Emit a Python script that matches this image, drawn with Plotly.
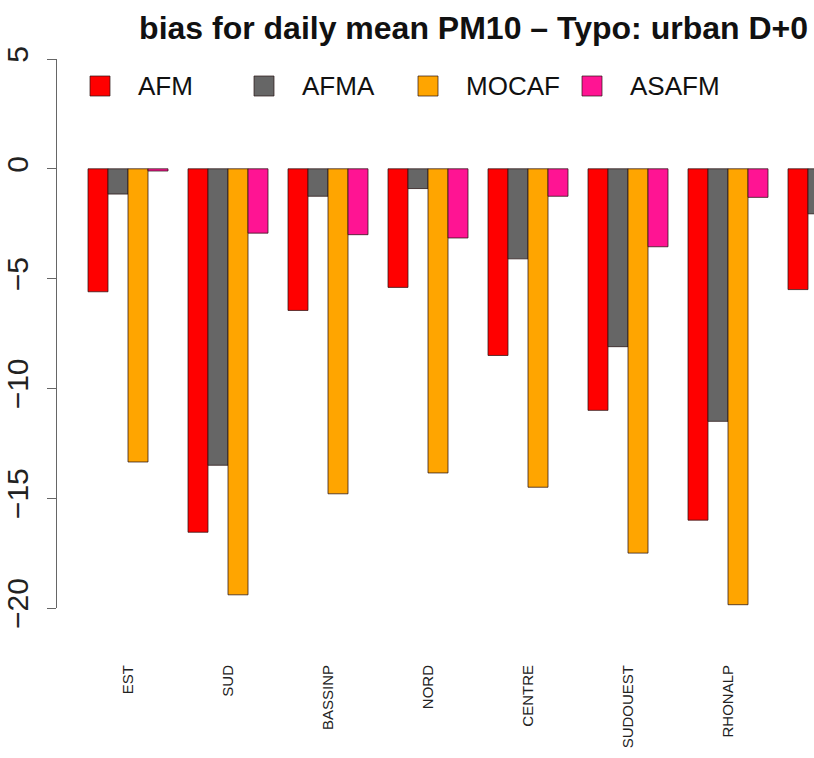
import plotly.graph_objects as go

# Regions (the last group is partly outside the visible x range)
regions = ["EST", "SUD", "BASSINP", "NORD", "CENTRE", "SUDOUEST", "RHONALP", "OUEST"]

# Daily mean PM10 bias per model and region
afm = [-5.6, -16.55, -6.45, -5.4, -8.5, -11.0, -16.0, -5.5]
afma = [-1.15, -13.5, -1.25, -0.9, -4.1, -8.1, -11.5, -2.05]
mocaf = [-13.35, -19.4, -14.8, -13.85, -14.5, -17.5, -19.85, None]
asafm = [-0.1, -2.93, -3.0, -3.15, -1.25, -3.55, -1.3, None]

series_names = ["AFM", "AFMA", "MOCAF", "ASAFM"]
series_values = [afm, afma, mocaf, asafm]
series_colors = ["#FF0000", "#666666", "#FFA500", "#FF1493"]

y_ticks = [5, 0, -5, -10, -15, -20]

FONT = "Liberation Sans, Arial, Helvetica, sans-serif"

fig = go.Figure()
for name, vals, col in zip(series_names, series_values, series_colors):
    fig.add_trace(go.Bar(
        x=regions, y=vals, name=name,
        marker=dict(color=col, line=dict(color="rgba(40,20,20,0.75)", width=1)),
        showlegend=False,
    ))

# Legend row drawn as squares plus labels along the top
legend_x0 = 90
legend_step = 164
for i, (name, col) in enumerate(zip(series_names, series_colors)):
    x0 = legend_x0 + i * legend_step
    fig.add_shape(type="rect", xref="paper", yref="paper",
                  x0=(x0 - 57) / 757, x1=(x0 + 20 - 57) / 757,
                  y0=1 + (59 - 96) / 549, y1=1 + (59 - 76) / 549,
                  fillcolor=col, line=dict(color="rgba(40,20,20,0.7)", width=1))
    fig.add_annotation(text=name, xref="paper", yref="paper",
                       x=(x0 + 46 - 57) / 757, y=1 + (59 - 86) / 549,
                       xanchor="left", yanchor="middle", showarrow=False,
                       font=dict(family=FONT, size=26, color="#111111"))

fig.update_layout(
    width=814, height=758,
    margin=dict(l=57, r=0, t=59, b=150),
    paper_bgcolor="white", plot_bgcolor="white",
    barmode="group", bargap=0.2, bargroupgap=0,
    title=dict(text="<b>bias for daily mean PM10 \u2013 Typo: urban D+0</b>",
               x=808 / 814, xanchor="right", xref="container",
               y=1 - 28 / 758, yanchor="middle", yref="container",
               font=dict(family=FONT, size=32, color="#111111")),
    font=dict(family=FONT, color="#222222"),
    xaxis=dict(
        range=[-0.71, 6.86], showline=False, showgrid=False, zeroline=False,
        ticks="", tickangle=-90, ticklabelstandoff=53,
        tickfont=dict(family=FONT, size=15, color="#222222"),
    ),
    yaxis=dict(
        range=[-20, 5], tickvals=y_ticks, ticktext=[str(v).replace("-", "\u2212") for v in y_ticks],
        showline=True, linecolor="#666666", linewidth=1,
        ticks="outside", ticklen=9, tickcolor="#666666", tickwidth=1,
        tickangle=-90, ticklabelstandoff=7,
        tickfont=dict(family=FONT, size=30, color="#222222"),
        showgrid=False, zeroline=False,
    ),
)

fig.write_html("out.html")
